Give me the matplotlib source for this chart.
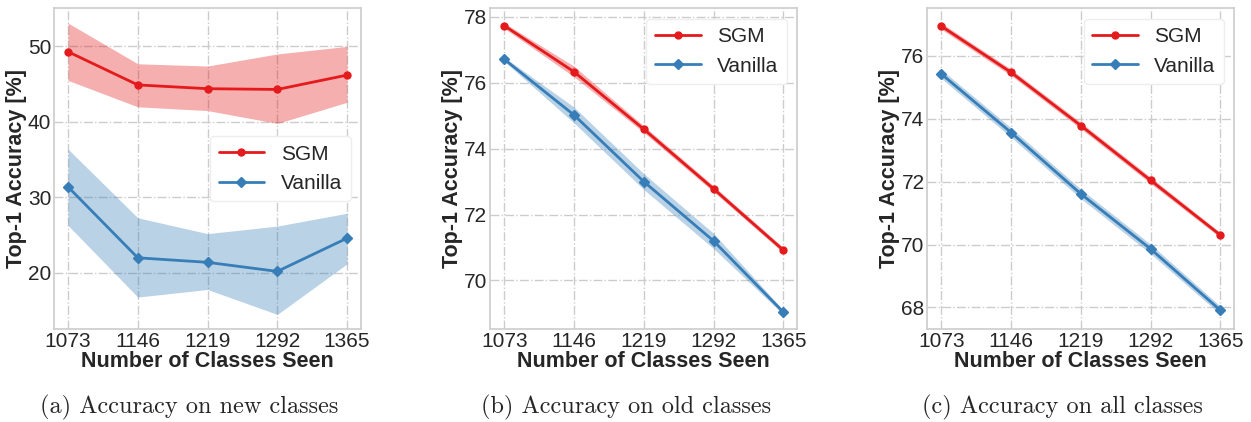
import matplotlib
matplotlib.use('Agg')
import matplotlib.pyplot as plt

plt.style.use('seaborn-v0_8-whitegrid')
plt.rcParams['font.family'] = ['Liberation Sans', 'DejaVu Sans']

classes = [1073, 1146, 1219, 1292, 1365]

# (a) new classes
new_sgm = [49.3, 44.9, 44.4, 44.3, 46.2]
new_sgm_lo = [45.5, 42.0, 41.5, 39.8, 42.6]
new_sgm_hi = [53.1, 47.7, 47.4, 49.0, 50.0]
new_van = [31.4, 22.0, 21.4, 20.2, 24.6]
new_van_lo = [26.3, 16.8, 17.8, 14.5, 21.2]
new_van_hi = [36.4, 27.3, 25.2, 26.2, 27.9]

# (b) old classes
old_sgm = [77.73, 76.33, 74.59, 72.78, 70.92]
old_sgm_lo = [77.65, 76.18, 74.49, 72.69, 70.84]
old_sgm_hi = [77.81, 76.5, 74.69, 72.87, 71.0]
old_van = [76.71, 75.02, 73.0, 71.2, 69.04]
old_van_lo = [76.65, 74.78, 72.76, 70.97, 68.97]
old_van_hi = [76.77, 75.26, 73.24, 71.43, 69.1]

# (c) all classes
all_sgm = [76.94, 75.47, 73.78, 72.04, 70.3]
all_sgm_lo = [76.84, 75.37, 73.68, 71.94, 70.22]
all_sgm_hi = [77.04, 75.57, 73.88, 72.14, 70.38]
all_van = [75.42, 73.56, 71.61, 69.86, 67.91]
all_van_lo = [75.28, 73.41, 71.46, 69.71, 67.78]
all_van_hi = [75.56, 73.71, 71.76, 70.01, 68.04]

captions = ['(a) Accuracy on new classes', '(b) Accuracy on old classes',
            '(c) Accuracy on all classes']

red = '#e41a1c'
blue = '#377eb8'

fig = plt.figure(figsize=(12.51, 4.22), dpi=100)
lefts = [0.0432, 0.3919, 0.7413]
width = 0.2454
bottom, top = 0.2204, 0.980
cap_x = [189.5 / 1251, 625.8 / 1251, 1062.5 / 1251]

panels = [
    (new_sgm, new_sgm_lo, new_sgm_hi, new_van, new_van_lo, new_van_hi, 'center right'),
    (old_sgm, old_sgm_lo, old_sgm_hi, old_van, old_van_lo, old_van_hi, 'upper right'),
    (all_sgm, all_sgm_lo, all_sgm_hi, all_van, all_van_lo, all_van_hi, 'upper right'),
]

for i, (s, slo, shi, v, vlo, vhi, loc) in enumerate(panels):
    ax = fig.add_axes([lefts[i], bottom, width, top - bottom])
    ax.fill_between(classes, slo, shi, color=red, alpha=0.35, lw=0)
    ax.fill_between(classes, vlo, vhi, color=blue, alpha=0.35, lw=0)
    ax.plot(classes, s, c=red, marker='o', ms=5, lw=2, label='SGM')
    ax.plot(classes, v, c=blue, marker='D', ms=5, lw=2, label='Vanilla')
    ax.set_xticks(classes)
    ax.grid(True, linestyle='-.', color='#cccccc', lw=1)
    for sp in ax.spines.values():
        sp.set_color('#cccccc')
        sp.set_linewidth(1.2)
    ax.tick_params(axis='both', labelsize=15, colors='#262626', pad=2)
    ax.set_xlabel('Number of Classes Seen', fontsize=15.5, fontweight='bold',
                  color='#262626', labelpad=0)
    ax.set_ylabel('Top-1 Accuracy [%]', fontsize=15.5, fontweight='bold',
                  color='#262626', labelpad=1)
    ax.legend(loc=loc, fontsize=15, frameon=True, facecolor='white',
              edgecolor='#eeeeee', framealpha=1, handlelength=2.2)
    fig.text(cap_x[i], 1 - 407 / 422, captions[i], ha='center', va='center',
             fontsize=17.5, family='cmr10')

fig.savefig('out.png', dpi=100)
